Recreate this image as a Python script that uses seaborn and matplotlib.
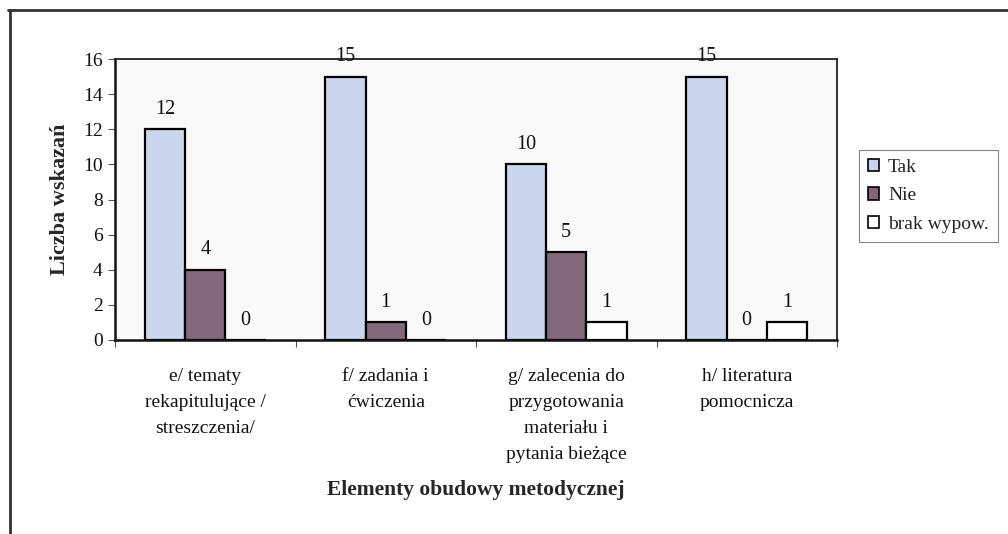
import matplotlib
matplotlib.use("Agg")
import matplotlib.pyplot as plt
from matplotlib.patches import Patch
from matplotlib.lines import Line2D
import numpy as np
import pandas as pd
import seaborn as sns

categories = [
    "e/ tematy\nrekapitulujące /\nstreszczenia/",
    "f/ zadania i\nćwiczenia",
    "g/ zalecenia do\nprzygotowania\nmateriału i\npytania bieżące",
    "h/ literatura\npomocnicza",
]
series_names = ["Tak", "Nie", "brak wypow."]
tak = [12, 15, 10, 15]
nie = [4, 1, 5, 0]
brak = [0, 0, 1, 1]
y_ticks = [0, 2, 4, 6, 8, 10, 12, 14, 16]

colors = ["#c4d4f2", "#866479", "#ffffff"]

df = pd.DataFrame({
    "element": categories * 3,
    "odpowiedz": [s for s in series_names for _ in categories],
    "liczba": tak + nie + brak,
})

sns.set_theme(style="white")
plt.rcParams["font.family"] = ["Liberation Serif", "DejaVu Serif"]

fig = plt.figure(figsize=(10.08, 5.34), dpi=100)
ax = fig.add_axes([115 / 1008, 1 - 340 / 534, (837 - 115) / 1008, (340 - 59) / 534])
ax.set_facecolor("#f9f9f9")

sns.barplot(
    data=df, x="element", y="liczba", hue="odpowiedz",
    order=categories, hue_order=series_names, palette=colors,
    edgecolor="black", linewidth=1.6, width=0.67, legend=False, ax=ax,
)

# value labels above each bar
for container, vals in zip(ax.containers, [tak, nie, brak]):
    for bar, v in zip(container, vals):
        ax.annotate(
            f"{v}", (bar.get_x() + bar.get_width() / 2, v),
            xytext=(0, 11), textcoords="offset points",
            ha="center", va="baseline", fontsize=14.5, color="#111111",
            annotation_clip=False,
        )

ax.set_ylim(0, 16)
ax.set_xlim(-0.5, len(categories) - 0.5)
ax.set_yticks(y_ticks)
ax.set_yticklabels([str(t) for t in y_ticks], fontsize=14)
ax.tick_params(axis="y", which="major", left=True, length=5, width=0.8,
               color="#555555", pad=4, labelcolor="#111111")

ax.set_xticks(range(len(categories)))
ax.set_xticklabels(categories, fontsize=14, linespacing=1.7, color="#111111")
ax.tick_params(axis="x", which="major", length=0, pad=20)
ax.set_xticks(np.arange(-0.5, len(categories), 1.0), minor=True)
ax.tick_params(axis="x", which="minor", bottom=True, length=5, width=0.8,
               color="#555555")

for side in ["left", "bottom"]:
    ax.spines[side].set_linewidth(1.8)
    ax.spines[side].set_color("#111111")
for side in ["top", "right"]:
    ax.spines[side].set_linewidth(1.3)
    ax.spines[side].set_color("#222222")

ax.set_ylabel("Liczba wskazań", fontsize=16, fontweight="bold", labelpad=9)
ax.set_xlabel("Elementy obudowy metodycznej", fontsize=15.5, fontweight="bold",
              labelpad=12)

handles = [Patch(facecolor=c, edgecolor="black", linewidth=1.2) for c in colors]
leg = fig.legend(
    handles, series_names, loc="upper left",
    bbox_to_anchor=(859 / 1008, 1 - 150 / 534), bbox_transform=fig.transFigure,
    fontsize=14, handlelength=0.6, handleheight=0.6, handletextpad=0.45,
    labelspacing=0.6, borderpad=0.45, borderaxespad=0, fancybox=False,
    frameon=True, edgecolor="#666666",
)
leg.get_frame().set_linewidth(0.8)

# outer frame lines
fig.add_artist(Line2D([8 / 1008, 1], [1 - 10 / 534, 1 - 10 / 534],
                      transform=fig.transFigure, color="#333333", linewidth=2))
fig.add_artist(Line2D([10 / 1008, 10 / 1008], [0, 1 - 10 / 534],
                      transform=fig.transFigure, color="#333333", linewidth=2))

fig.savefig("out.png", dpi=100)
